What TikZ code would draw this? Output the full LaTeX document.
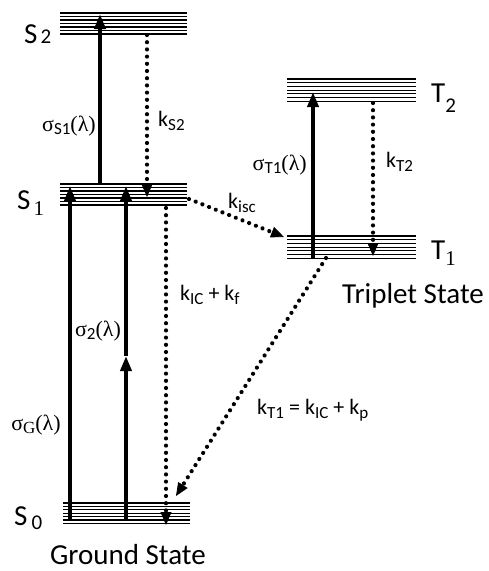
\documentclass[tikz,border=0pt]{standalone}
\usepackage{fontspec}
\setmainfont{Carlito}
\newfontfamily\grk{Liberation Serif}
\usetikzlibrary{arrows.meta,decorations.markings}
\newcommand\lo[1]{\raisebox{-3.5pt}{\fontsize{17}{17}\selectfont #1}}
\begin{document}
\begin{tikzpicture}[x=1pt,y=-1pt,
  lvl/.style={line width=1.1pt},
  exc/.style={line width=3.8pt,-{Triangle[width=11pt,length=15pt]}},
  rel/.style={line width=0.8pt,dash pattern=on 0pt off 2000pt,
    -{Triangle[width=11pt,length=13pt]},
    postaction={decorate,decoration={markings,
      mark=between positions 0 and -12pt step 7.2pt with {\fill circle (2.1pt);}}}},
  lab/.style={font=\fontsize{22}{24}\selectfont, inner sep=0pt},
  big/.style={font=\fontsize{29}{30}\selectfont, inner sep=0pt},
  captext/.style={font=\fontsize{29}{31}\selectfont, inner sep=0pt}]
\useasboundingbox (0,0) rectangle (488,571);
% energy levels
\foreach \i in {0,...,6}{
  \draw[lvl] (60,{13+3.5*\i}) -- (187,{13+3.5*\i});
  \draw[lvl] (60,{184+3.5*\i}) -- (187,{184+3.5*\i});
  \draw[lvl] (287,{79+3.7*\i}) -- (416,{79+3.7*\i});
  \draw[lvl] (287,{236+3.7*\i}) -- (416,{236+3.7*\i});
  \draw[lvl] (63,{503+3.4*\i}) -- (190,{503+3.4*\i});
}
% level labels
\node[big,anchor=base west] (nS2) at (24,43) {S\hspace{3pt}\fontsize{21}{21}\selectfont 2};
\node[big,anchor=base west] (nS1) at (17,209) {S\hspace{3pt}\raisebox{-6pt}{\fontsize{21}{21}\selectfont\grk 1}};
\node[big,anchor=base west] (nS0) at (14,525) {S\hspace{4pt}\raisebox{-4pt}{\fontsize{21}{21}\selectfont 0}};
\node[big,anchor=base west] (nT2) at (431,102) {T\raisebox{-10pt}{\fontsize{21}{21}\selectfont 2}};
\node[big,anchor=base west] (nT1) at (431,259) {T\raisebox{-6pt}{\fontsize{21}{21}\selectfont\grk 1}};
\node[captext,anchor=base west] (gs) at (50,564) {Ground State};
\node[captext,anchor=base west] (ts) at (342,303) {Triplet State};
% anchor points
\coordinate (s1a) at (100,184); \coordinate (s2a) at (100,14);
\coordinate (s2b) at (147,35);  \coordinate (s1b) at (147,197);
\coordinate (s0g) at (70,521);  \coordinate (s1g) at (70,186);
\coordinate (s0c) at (126,521); \coordinate (mid) at (126,356); \coordinate (s1c) at (126,186);
\coordinate (s1d) at (166,208); \coordinate (s0d) at (166,525);
\coordinate (s1e) at (189,199); \coordinate (t1e) at (284,237);
\coordinate (t1a) at (313,258); \coordinate (t2a) at (313,92);
\coordinate (t2b) at (373,103); \coordinate (t1b) at (373,256);
\coordinate (t1c) at (326,258); \coordinate (s0e) at (176,496);
% excitations
\draw[exc] (s1a) -- (s2a);
\draw[exc] (s0g) -- (s1g);
\draw[exc] (s0c) -- (mid);
\draw[exc] (mid) -- (s1c);
\draw[exc] (t1a) -- (t2a);
% relaxations
\draw[rel] (s2b) -- (s1b);
\draw[rel] (s1d) -- (s0d);
\draw[rel] (s1e) -- (t1e);
\draw[rel] (t2b) -- (t1b);
\draw[rel] (t1c) -- (s0e);
% rate labels
\node[lab,anchor=east] (lS1) at (96,126) {{\grk σ}\lo{S1}{\grk (λ)}};
\node[lab,anchor=west] (lkS2) at (158,121) {k\lo{S2}};
\node[lab,anchor=east] (lT1) at (307,165) {{\grk σ}\lo{T1}{\grk (λ)}};
\node[lab,anchor=west] (lkT2) at (386,162) {k\lo{T2}};
\node[lab,anchor=west] (lkisc) at (228,203) {k\lo{isc}};
\node[lab,anchor=west] (lkic) at (180,295) {k\lo{IC} + k\lo{f}};
\node[lab,anchor=center] (l2) at (98,331) {{\grk σ}\lo{2}{\grk (λ)}};
\node[lab,anchor=center] (lG) at (36,425) {{\grk σ\lo{G}(λ)}};
\node[lab,anchor=west] (lkT1) at (257,410) {k\lo{T1} = k\lo{IC} + k\lo{p}};
\end{tikzpicture}
\end{document}
